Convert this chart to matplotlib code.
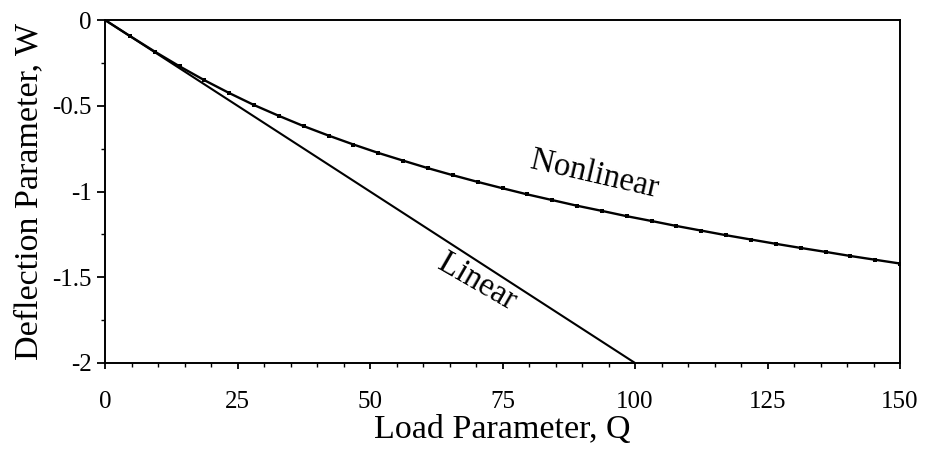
import matplotlib
matplotlib.use("Agg")
import matplotlib.pyplot as plt
from matplotlib.ticker import MultipleLocator

# Load parameter Q and deflection parameter W
q_nonlinear = [0.0, 4.69, 9.38, 14.06, 18.75, 23.44, 28.13, 32.81, 37.5, 42.19,
               46.88, 51.56, 56.25, 60.94, 65.63, 70.31, 75.0, 79.69, 84.38, 89.06,
               93.75, 98.44, 103.13, 107.81, 112.5, 117.19, 121.88, 126.56, 131.25,
               135.94, 140.63, 145.31, 150.0]
w_nonlinear = [0.0, -0.093, -0.184, -0.270, -0.351, -0.426, -0.496, -0.559, -0.619,
               -0.674, -0.726, -0.775, -0.820, -0.864, -0.905, -0.944, -0.981, -1.017,
               -1.050, -1.083, -1.113, -1.144, -1.172, -1.201, -1.228, -1.255, -1.280,
               -1.305, -1.329, -1.352, -1.376, -1.398, -1.420]

q_linear = [0.0, 100.0]
w_linear = [0.0, -2.0]

x_ticks = [0, 25, 50, 75, 100, 125, 150]
y_ticks = [0, -0.5, -1, -1.5, -2]
y_tick_labels = ["0", "-0.5", "-1", "-1.5", "-2"]

plt.rcParams["font.family"] = ["Liberation Serif", "DejaVu Serif"]

fig = plt.figure(figsize=(9.27, 4.53), dpi=100)
ax = fig.add_axes([0.1133, 0.1987, 0.8576, 0.7571])

ax.plot(q_linear, w_linear, color="black", lw=1.5, solid_capstyle="butt")
ax.plot(q_nonlinear, w_nonlinear, color="black", lw=1.7, marker="s",
        markersize=2.6, markeredgewidth=0)

ax.set_xlim(0, 150)
ax.set_ylim(-2, 0)
ax.set_xticks(x_ticks)
ax.set_xticklabels([str(t) for t in x_ticks])
ax.set_yticks(y_ticks)
ax.set_yticklabels(y_tick_labels)
ax.xaxis.set_minor_locator(MultipleLocator(5))
ax.yaxis.set_minor_locator(MultipleLocator(0.25))

ax.tick_params(axis="both", which="major", direction="out", width=1.3,
               labelsize=18, colors="black")
ax.tick_params(axis="both", which="minor", direction="out", length=3, width=1.0)
ax.tick_params(axis="x", which="major", length=4, pad=16)
ax.tick_params(axis="y", which="major", length=6, pad=3.5)

for side in ("left", "right", "top", "bottom"):
    ax.spines[side].set_linewidth(1.4)

ax.set_xlabel("Load Parameter, Q", fontsize=24.5, labelpad=1)
ax.set_ylabel("Deflection Parameter, W", fontsize=24.5, labelpad=6)

ax.text(92.4, -0.90, "Nonlinear", fontsize=23.5, rotation=-13,
        ha="center", va="center")
ax.text(70.2, -1.53, "Linear", fontsize=23.5, rotation=-30,
        ha="center", va="center")

fig.savefig("out.png", dpi=100)
